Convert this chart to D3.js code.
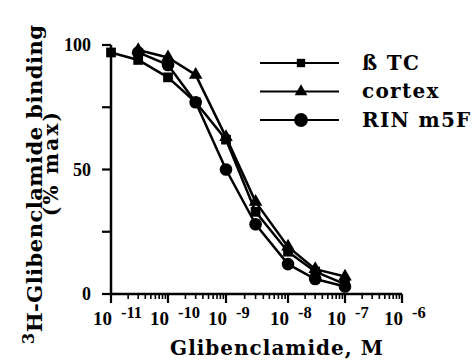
<!DOCTYPE html>
<html>
<head>
<meta charset="utf-8">
<script src="https://cdn.jsdelivr.net/npm/d3@7"></script>
<style>
  html, body { margin: 0; padding: 0; background: #fff; }
  svg { display: block; }
  text { font-family: "DejaVu Serif", "Liberation Serif", serif; font-weight: bold; fill: #000; }
  text.num { font-family: "Liberation Serif", "DejaVu Serif", serif; }
</style>
</head>
<body>
<svg id="chart" width="476" height="360"></svg>
<script>
// Glibenclamide concentrations (M) and displacement of bound 3H-glibenclamide (% of max)
const concBetaTC = [1e-11, 3e-11, 1e-10, 3e-10, 1e-9, 3e-9, 1e-8, 3e-8, 1e-7];
const betaTC     = [97, 94, 87, 77, 62, 33, 17, 9, 4];

const concCortex = [3e-11, 1e-10, 3e-10, 1e-9, 3e-9, 1e-8, 3e-8, 1e-7];
const cortex     = [98, 95, 88, 63, 37, 19, 10, 7];

const concRIN    = [3e-11, 1e-10, 3e-10, 1e-9, 3e-9, 1e-8, 3e-8, 1e-7];
const rinM5F     = [97, 92, 77, 50, 28, 12, 6, 3];

const seriesNames = ["ß TC", "cortex", "RIN m5F"];
const xDecades = [-11, -10, -9, -8, -7, -6];
const yTicks = [0, 25, 50, 75, 100];
const yTickLabels = [0, 50, 100];

const svg = d3.select("#chart");

// Log axis; the decade stops are laid out piecewise
const x = d3.scaleLog()
  .domain(xDecades.map(e => Math.pow(10, e)))
  .range([111, 168, 226, 288, 345, 402]);
const y = d3.scaleLinear().domain([0, 100]).range([294, 45]);

const series = [
  { name: seriesNames[0], xs: concBetaTC, ys: betaTC, symbol: d3.symbolSquare, size: 95 },
  { name: seriesNames[1], xs: concCortex, ys: cortex, symbol: d3.symbolTriangle, size: 80 },
  { name: seriesNames[2], xs: concRIN,    ys: rinM5F, symbol: d3.symbolCircle, size: 125 }
];

// ---- axes ----
const axes = svg.append("g").attr("stroke", "#000").attr("fill", "none");

// y axis line and ticks
axes.append("line")
  .attr("x1", x(1e-11)).attr("x2", x(1e-11))
  .attr("y1", y(100)).attr("y2", y(0))
  .attr("stroke-width", 2.5);
axes.selectAll(".ytick").data(yTicks).join("line")
  .attr("x1", x(1e-11) - 9).attr("x2", x(1e-11))
  .attr("y1", d => y(d)).attr("y2", d => y(d))
  .attr("stroke-width", 2.2);

// x axis line, major and minor ticks
axes.append("line")
  .attr("x1", x(1e-11)).attr("x2", x(1e-6))
  .attr("y1", y(0)).attr("y2", y(0))
  .attr("stroke-width", 2.5);
const minor = [];
xDecades.slice(0, -1).forEach(e => {
  for (let k = 2; k <= 9; k++) minor.push(k * Math.pow(10, e));
});
axes.selectAll(".xminor").data(minor).join("line")
  .attr("x1", d => x(d)).attr("x2", d => x(d))
  .attr("y1", y(0)).attr("y2", y(0) + 5)
  .attr("stroke-width", 1.6);
axes.selectAll(".xmajor").data(xDecades).join("line")
  .attr("x1", e => x(Math.pow(10, e))).attr("x2", e => x(Math.pow(10, e)))
  .attr("y1", y(0)).attr("y2", y(0) + 9)
  .attr("stroke-width", 2.2);

// y tick labels
svg.selectAll(".ylab").data(yTickLabels).join("text")
  .attr("class", "num")
  .attr("x", x(1e-11) - 20)
  .attr("y", d => y(d) + 6)
  .attr("text-anchor", "end")
  .attr("font-size", 18)
  .text(d => d);

// x tick labels: "10" ends at the tick, exponent raised to its right
const xl = svg.selectAll(".xlab").data(xDecades).join("g");
xl.append("text")
  .attr("class", "num")
  .attr("x", e => x(Math.pow(10, e)) + 1)
  .attr("y", 325)
  .attr("text-anchor", "end")
  .attr("font-size", 19)
  .text("10");
xl.append("text")
  .attr("class", "num")
  .attr("x", e => x(Math.pow(10, e)) + 10)
  .attr("y", 318)
  .attr("font-size", 16.5)
  .text(e => "-" + Math.abs(e));

// axis titles
svg.append("text")
  .attr("x", 277).attr("y", 355)
  .attr("text-anchor", "middle")
  .attr("font-size", 20)
  .attr("letter-spacing", 1)
  .text("Glibenclamide, M");

const yt = svg.append("text")
  .attr("transform", "translate(42,344) rotate(-90)")
  .attr("font-size", 21)
  .attr("letter-spacing", 0.5);
yt.append("tspan").attr("dy", -8).attr("font-size", 16).text("3");
yt.append("tspan").attr("dy", 8).text("H-Glibenclamide binding");

svg.append("text")
  .attr("transform", "translate(58,163) rotate(-90)")
  .attr("text-anchor", "middle")
  .attr("font-size", 20)
  .attr("letter-spacing", 2.2)
  .text("(% max)");

// ---- data lines and markers ----
const line = d3.line().x(d => x(d[0])).y(d => y(d[1]));
series.forEach(s => {
  const pts = s.xs.map((c, i) => [c, s.ys[i]]);
  svg.append("path")
    .datum(pts)
    .attr("d", line)
    .attr("fill", "none")
    .attr("stroke", "#000")
    .attr("stroke-width", 2.5)
    .attr("stroke-linejoin", "round");
  svg.append("g").selectAll("path").data(pts).join("path")
    .attr("transform", d => `translate(${x(d[0])},${y(d[1])})`)
    .attr("d", d3.symbol().type(s.symbol).size(s.size))
    .attr("fill", "#000");
});

// ---- legend ----
const legend = svg.append("g").attr("transform", "translate(260,63)");
series.forEach((s, i) => {
  const g = legend.append("g").attr("transform", `translate(0,${i * 28.5})`);
  g.append("line").attr("x1", 0).attr("x2", 79).attr("y1", 0).attr("y2", 0)
    .attr("stroke", "#000").attr("stroke-width", 2.2);
  g.append("path")
    .attr("transform", "translate(41,0)")
    .attr("d", d3.symbol().type(s.symbol).size(i === 2 ? 150 : 70))
    .attr("fill", "#000");
  g.append("text")
    .attr("x", 102).attr("y", 6.5)
    .attr("font-size", 20)
    .attr("letter-spacing", 1.3)
    .text(s.name);
});
</script>
</body>
</html>
